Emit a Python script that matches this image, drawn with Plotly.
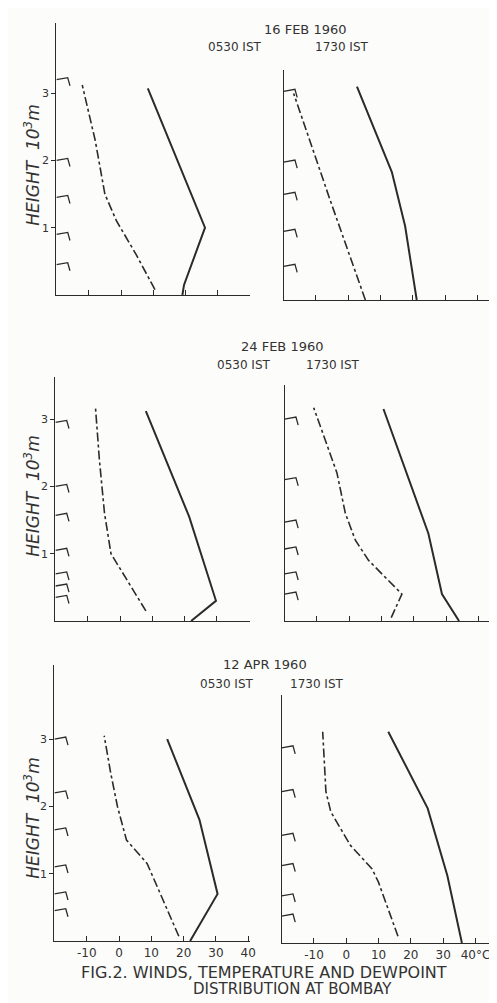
import plotly.graph_objects as go

W, H = 497, 1003

# ---------------- data ----------------
dates = ["16 FEB 1960", "24 FEB 1960", "12 APR 1960"]
times = ["0530 IST", "1730 IST"]

# 16 FEB 1960, 0530 IST
t1a_h = [0, 0.15, 1.0, 3.07]
t1a_T = [19, 19.5, 26, 8.3]
d1a_h = [0.08, 0.6, 1.1, 1.5, 2.3, 3.12]
d1a_T = [10.5, 4.7, -1.4, -5, -8, -12]
w1a_h = [3.2, 2.0, 1.45, 0.9, 0.45]
# 16 FEB 1960, 1730 IST
t1b_h = [0, 1.1, 1.9, 3.17]
t1b_T = [21.2, 17.6, 13.5, 2.7]
d1b_h = [0, 1.47, 3.07]
d1b_T = [5.3, -5.5, -16.9]
w1b_h = [3.1, 2.05, 1.57, 1.02, 0.5]
# 24 FEB 1960, 0530 IST
t2a_h = [0, 0.3, 1.55, 3.12]
t2a_T = [22, 29.7, 21.4, 8]
d2a_h = [0.15, 1.0, 1.6, 2.4, 3.17]
d2a_T = [8, -2.8, -4.8, -6.4, -7.6]
w2a_h = [2.95, 2.0, 1.57, 1.05, 0.7, 0.52, 0.35]
# 24 FEB 1960, 1730 IST
t2b_h = [0, 0.4, 1.3, 3.15]
t2b_T = [34, 28.7, 24.5, 10.6]
d2b_h = [0.05, 0.4, 0.9, 1.2, 1.6, 2.2, 3.17]
d2b_T = [13, 16.3, 6, 1.9, -1.2, -3.8, -11]
w2b_h = [3.0, 2.1, 1.47, 1.07, 0.7, 0.4]
# 12 APR 1960, 0530 IST
t3a_h = [0, 0.7, 1.8, 3.0]
t3a_T = [22, 30.5, 24.9, 14.9]
d3a_h = [0.07, 0.6, 1.15, 1.5, 2.0, 2.5, 3.05]
d3a_T = [18.5, 13.8, 8.7, 2.3, -0.5, -2.6, -4.6]
w3a_h = [3.0, 2.2, 1.65, 1.1, 0.7, 0.45]
# 12 APR 1960, 1730 IST
t3b_h = [0, 1.0, 2.0, 3.14]
t3b_T = [35.8, 31.3, 25.2, 13]
d3b_h = [0.1, 0.9, 1.1, 1.45, 1.95, 2.25, 3.14]
d3b_T = [16, 10, 8, 1.3, -4.8, -6.3, -7.3]
w3b_h = [2.9, 2.25, 1.6, 1.15, 0.7, 0.4]

x_ticks = [-10, 0, 10, 20, 30, 40]
x_ticktext = ["-10", "0", "10", "20", "30", "40"]
x_ticktext_last = ["-10", "0", "10", "20", "30", "40°C"]
y_ticks = [1, 2, 3]

# ---------------- layout geometry (pixels) ----------------
INK = "#2b2b2b"
TXT = "#333333"
FONT = "DejaVu Sans"
PX_DEG = 3.27
PX_KM = 67.3

panels = [
    # (temp_h, temp_T, dew_h, dew_T, wind_h, left, right, top, bottom, row, col)
    (t1a_h, t1a_T, d1a_h, d1a_T, w1a_h, 49, 245, 15, 287, 0, 0),
    (t1b_h, t1b_T, d1b_h, d1b_T, w1b_h, 279, 487, 62, 292, 0, 1),
    (t2a_h, t2a_T, d2a_h, d2a_T, w2a_h, 48, 245, 369, 613, 1, 0),
    (t2b_h, t2b_T, d2b_h, d2b_T, w2b_h, 280, 490, 377, 613, 1, 1),
    (t3a_h, t3a_T, d3a_h, d3a_T, w3a_h, 47, 245, 657, 933, 2, 0),
    (t3b_h, t3b_T, d3b_h, d3b_T, w3b_h, 277, 487, 687, 935, 2, 1),
]

fig = go.Figure()
layout = {}
for i, (th, tT, dh, dT, wh, L, R, T, B, row, col) in enumerate(panels):
    n = i + 1
    xa = "x" if n == 1 else f"x{n}"
    ya = "y" if n == 1 else f"y{n}"
    xmax = -20 + (R - L) / PX_DEG
    ymax = (B - T) / PX_KM
    # wind barbs: short stems with a hook, built from wind heights
    bx, by = [], []
    for h in wh:
        bx += [-20, -16.5, -15.8, None]
        by += [h, h + 0.03, h - 0.09, None]
    fig.add_trace(go.Scatter(x=bx, y=by, xaxis=xa, yaxis=ya, mode="lines",
                             line=dict(color=INK, width=1.3), hoverinfo="skip",
                             showlegend=False))
    fig.add_trace(go.Scatter(x=dT, y=dh, xaxis=xa, yaxis=ya, mode="lines",
                             line=dict(color=INK, width=1.6, dash="dashdot"),
                             name="Dewpoint", showlegend=False))
    fig.add_trace(go.Scatter(x=tT, y=th, xaxis=xa, yaxis=ya, mode="lines",
                             line=dict(color=INK, width=2),
                             name="Temperature", showlegend=False))
    bottom_row = row == 2
    xax = dict(
        domain=[L / W, R / W], anchor=ya, range=[-20, xmax],
        showline=True, linecolor=INK, linewidth=1.3, showgrid=False, zeroline=False,
        ticks="inside", ticklen=5, tickwidth=1, tickcolor=INK,
        tickvals=x_ticks, showticklabels=bottom_row,
        tickfont=dict(family=FONT, size=12, color=TXT), fixedrange=True)
    if bottom_row:
        xax["ticktext"] = x_ticktext_last if col == 1 else x_ticktext
    layout["xaxis" if n == 1 else f"xaxis{n}"] = xax
    layout["yaxis" if n == 1 else f"yaxis{n}"] = dict(
        domain=[1 - B / H, 1 - T / H], anchor=xa, range=[0, ymax],
        showline=True, linecolor=INK, linewidth=1.3, showgrid=False, zeroline=False,
        ticks="outside" if col == 0 else "", ticklen=4, tickcolor=INK,
        tickvals=y_ticks, showticklabels=(col == 0),
        tickfont=dict(family=FONT, size=11, color=TXT), fixedrange=True)

ann = []
def txt(x, y, s, size=11, angle=0):
    ann.append(dict(x=x / W, y=1 - y / H, xref="paper", yref="paper", text=s,
                    showarrow=False, textangle=angle, xanchor="center", yanchor="middle",
                    font=dict(family=FONT, size=size, color=TXT)))

# titles
txt(301, 21, dates[0], 13); txt(230, 39, times[0], 12); txt(338, 39, times[1], 12)
txt(278, 338, dates[1], 13); txt(239, 357, times[0], 12); txt(329, 357, times[1], 12)
txt(260, 656, dates[2], 13); txt(222, 676, times[0], 12); txt(313, 676, times[1], 12)
# y-axis labels
for yc in [157, 488, 810]:
    txt(24, yc, "<i>HEIGHT  10<sup>3</sup>m</i>", 17, -90)
# caption
txt(259, 964, "FIG.2. WINDS, TEMPERATURE AND DEWPOINT", 16)
txt(288, 981, "DISTRIBUTION AT BOMBAY", 15)

fig.update_layout(width=W, height=H, margin=dict(l=0, r=0, t=0, b=0),
                  paper_bgcolor="#fcfcfa", plot_bgcolor="rgba(0,0,0,0)",
                  showlegend=False, annotations=ann, **layout)
fig.write_html("out.html")
